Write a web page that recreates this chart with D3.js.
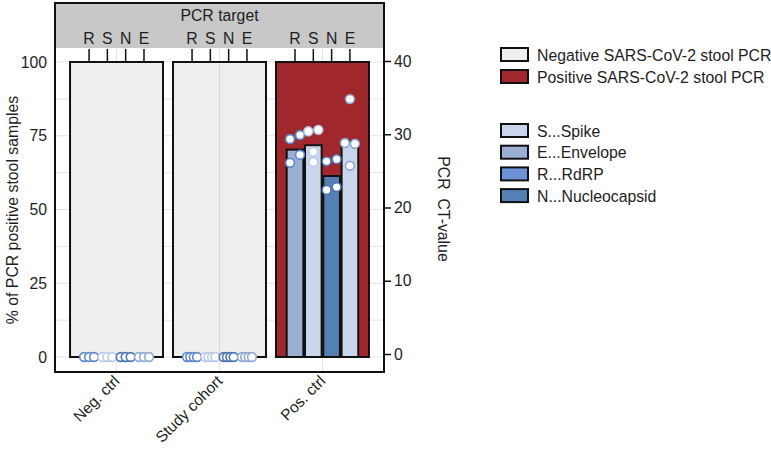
<!DOCTYPE html>
<html><head><meta charset="utf-8">
<script src="https://cdn.jsdelivr.net/npm/d3@7/dist/d3.min.js"></script>
<style>
body{margin:0;background:#fff;}
svg{display:block;font-family:"Liberation Sans",Arial,Helvetica,sans-serif;}
</style></head>
<body>
<svg id="chart" width="771" height="449"></svg>
<script>
// ---------- DATA ----------
const groups = ["Neg. ctrl", "Study cohort", "Pos. ctrl"];
const pctPositive = [0, 0, 100];
const targets = ["R", "S", "N", "E"];
const posCtMean = [27.9, 28.5, 24.3, 29.1];            // bars in Pos. ctrl, per target
const posCtPoints = [                                   // [ct, jitter]
  [[29.35, -1], [29.9, 1], [26.1, -1], [27.2, 1]],      // R
  [[30.4, -1], [30.6, 1], [27.6, 0], [26.2, 0]],        // S
  [[26.3, -1], [26.6, 1], [22.4, -1], [22.8, 1]],       // N
  [[34.8, 0], [28.8, -1], [28.7, 1], [25.7, 0]]         // E
];
const negJitter = [-1, 0, 1];                           // CT 0 points, each target
const studyJitter = [-1, -0.35, 0.35, 1];
const leftTicks = [0, 25, 50, 75, 100];
const rightTicks = [0, 10, 20, 30, 40];
const legendGroups = ["Negative SARS-CoV-2 stool PCR", "Positive SARS-CoV-2 stool PCR"];
const legendTargets = ["S...Spike", "E...Envelope", "R...RdRP", "N...Nucleocapsid"];

// ---------- STYLE ----------
const negFill = "#efefef", posFill = "#a0282c";
const barColor = {R: "#9aafd1", S: "#c9d5ea", N: "#5580b5", E: "#c9d5ea"};
const pointColor = {R: "#5e88cc", S: "#bccbe6", N: "#4a76b2", E: "#90a8d2"};
const legendTargetColors = ["#c9d5ea", "#9aafd3", "#6b92d4", "#5580b5"];
const txt = "#1e1e1e", fs = 15.8;

const svg = d3.select("#chart");
const frame = {l: 55, r: 384, t: 3, b: 372, strip: 48};

const x = d3.scaleBand().domain(groups).range([frame.l, frame.r]).paddingInner(0.097).paddingOuter(0.146);
const xs = d3.scaleBand().domain(targets).range([0, x.bandwidth()]).paddingInner(0.09).paddingOuter(0.585);
const y = d3.scaleLinear().domain([0, 100]).range([357, 62]);
const yCt = d3.scaleLinear().domain([0, 40]).range([354, 61]);
const jit = 5;

// grid
const grid = svg.append("g");
d3.range(0, 100.1, 12.5).forEach(v => {
  grid.append("line").attr("x1", frame.l).attr("x2", frame.r).attr("y1", y(v)).attr("y2", y(v))
    .attr("stroke", "#e4e4e4").attr("stroke-width", 1);
});
groups.forEach(g => {
  const cx = x(g) + x.bandwidth() / 2;
  grid.append("line").attr("x1", cx).attr("x2", cx).attr("y1", frame.strip).attr("y2", frame.b)
    .attr("stroke", "#e4e4e4").attr("stroke-width", 1);
});

// strip
svg.append("rect").attr("x", frame.l).attr("y", frame.t).attr("width", frame.r - frame.l).attr("height", frame.strip - frame.t)
  .attr("fill", "#c8c8c8");
svg.append("text").attr("x", (frame.l + frame.r) / 2).attr("y", 20.5).attr("text-anchor", "middle")
  .attr("font-size", fs).attr("fill", txt).text("PCR target");

// panels
groups.forEach((g, i) => {
  const gx = x(g);
  svg.append("rect").attr("x", gx).attr("y", y(100)).attr("width", x.bandwidth()).attr("height", y(0) - y(100))
    .attr("fill", pctPositive[i] >= 100 ? posFill : negFill).attr("stroke", "#111").attr("stroke-width", 2);
  if (i === 1) {
    svg.append("line").attr("x1", gx + x.bandwidth() / 2).attr("x2", gx + x.bandwidth() / 2)
      .attr("y1", y(100) + 1).attr("y2", y(0) - 1).attr("stroke", "#d6d6d6").attr("stroke-width", 1);
  }
  targets.forEach(t => {
    const cx = gx + xs(t) + xs.bandwidth() / 2;
    svg.append("text").attr("x", cx).attr("y", 43.5).attr("text-anchor", "middle").attr("font-size", fs)
      .attr("fill", txt).text(t);
    svg.append("line").attr("x1", cx).attr("x2", cx).attr("y1", frame.strip + 1).attr("y2", y(100))
      .attr("stroke", "#111").attr("stroke-width", 1.5);
  });
});

// Pos ctrl bars
const pg = groups[2];
targets.forEach((t, k) => {
  svg.append("rect").attr("x", x(pg) + xs(t)).attr("y", yCt(posCtMean[k]))
    .attr("width", xs.bandwidth()).attr("height", y(0) - yCt(posCtMean[k]))
    .attr("fill", barColor[t]).attr("stroke", "#111").attr("stroke-width", 2);
});

// points
function pt(cx, cy, col) {
  svg.append("circle").attr("cx", cx).attr("cy", cy).attr("r", 4.4)
    .attr("fill", "#fff").attr("stroke", col).attr("stroke-width", 1.6);
}
[[groups[0], negJitter], [groups[1], studyJitter]].forEach(([g, js]) => {
  targets.forEach(t => {
    const cx = x(g) + xs(t) + xs.bandwidth() / 2;
    js.forEach(j => pt(cx + j * jit, y(0), pointColor[t]));
  });
});
targets.forEach((t, k) => {
  const cx = x(pg) + xs(t) + xs.bandwidth() / 2;
  posCtPoints[k].forEach(([ct, j]) => pt(cx + j * jit, yCt(ct), pointColor[t]));
});

// frame
svg.append("rect").attr("x", frame.l).attr("y", frame.t).attr("width", frame.r - frame.l).attr("height", frame.b - frame.t)
  .attr("fill", "none").attr("stroke", "#111").attr("stroke-width", 2);

// left axis labels
leftTicks.forEach(v => {
  svg.append("text").attr("x", 47).attr("y", y(v)).attr("dy", "0.35em").attr("text-anchor", "end")
    .attr("font-size", fs).attr("fill", txt).text(v);
});
svg.append("text").attr("transform", "translate(18,210) rotate(-90)").attr("text-anchor", "middle")
  .attr("font-size", fs).attr("fill", txt).text("% of PCR positive stool samples");

// right axis
const ra = svg.append("g").attr("transform", `translate(${frame.r},0)`)
  .call(d3.axisRight(yCt).tickValues(rightTicks).tickSize(7).tickPadding(3));
ra.select(".domain").remove();
ra.selectAll("line").attr("stroke", "#111").attr("stroke-width", 1.5);
ra.selectAll("text").attr("font-size", fs).attr("fill", txt).attr("font-family", null);
svg.append("text").attr("transform", "translate(438,209) rotate(90)").attr("text-anchor", "middle")
  .attr("font-size", fs).attr("fill", txt).style("white-space", "pre").text("PCR  CT-value");

// x labels
groups.forEach(g => {
  const cx = x(g) + x.bandwidth() / 2;
  svg.append("text").attr("transform", `translate(${cx + 4},${382}) rotate(-45)`).attr("text-anchor", "end")
    .attr("font-size", 15.5).attr("fill", txt).text(g);
});

// legend
const lg = svg.append("g");
legendGroups.forEach((s, i) => {
  const yy = 48 + i * 22;
  lg.append("rect").attr("x", 501).attr("y", yy).attr("width", 27).attr("height", 13)
    .attr("fill", i === 0 ? negFill : posFill).attr("stroke", "#111").attr("stroke-width", 2);
  lg.append("text").attr("x", 537).attr("y", yy + 7).attr("dy", "0.35em").attr("font-size", fs)
    .attr("fill", txt).text(s);
});
legendTargets.forEach((s, i) => {
  const yy = 124 + i * 21.7;
  lg.append("rect").attr("x", 501).attr("y", yy).attr("width", 27).attr("height", 13)
    .attr("fill", legendTargetColors[i]).attr("stroke", "#111").attr("stroke-width", 2);
  lg.append("text").attr("x", 537).attr("y", yy + 7).attr("dy", "0.35em").attr("font-size", fs)
    .attr("fill", txt).text(s);
});
</script>
</body></html>
